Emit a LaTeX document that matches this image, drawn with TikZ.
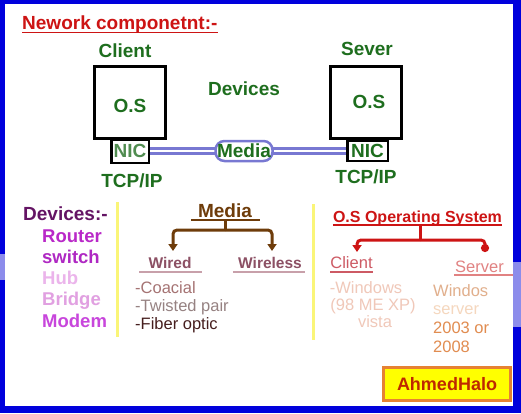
\documentclass[tikz,border=0pt]{standalone}
\usepackage{fontspec}
\setmainfont{Liberation Sans}
\usetikzlibrary{arrows.meta}

\definecolor{frameblue}{RGB}{0,0,220}
\definecolor{framelight}{RGB}{140,140,235}
\definecolor{titlered}{RGB}{205,20,20}
\definecolor{netgreen}{RGB}{30,110,30}
\definecolor{nicgreen}{RGB}{80,140,80}
\definecolor{lavender}{RGB}{120,120,210}
\definecolor{devpurple}{RGB}{100,20,100}
\definecolor{routerc}{RGB}{185,40,200}
\definecolor{switchc}{RGB}{175,40,195}
\definecolor{hubc}{RGB}{235,180,235}
\definecolor{bridgec}{RGB}{225,160,225}
\definecolor{modemc}{RGB}{200,70,220}
\definecolor{sepyellow}{RGB}{250,245,120}
\definecolor{mediabrown}{RGB}{110,60,10}
\definecolor{wiredc}{RGB}{140,80,100}
\definecolor{wiredline}{RGB}{200,160,170}
\definecolor{coacialc}{RGB}{165,115,115}
\definecolor{twistedc}{RGB}{150,130,130}
\definecolor{fiberc}{RGB}{70,30,30}
\definecolor{clientc}{RGB}{205,90,100}
\definecolor{serverc}{RGB}{225,130,130}
\definecolor{winc}{RGB}{240,200,185}
\definecolor{windosc}{RGB}{225,175,140}
\definecolor{wserverc}{RGB}{245,215,190}
\definecolor{yearc}{RGB}{225,140,80}
\definecolor{haloyellow}{RGB}{255,255,0}
\definecolor{haloorange}{RGB}{230,130,50}
\definecolor{halored}{RGB}{190,40,0}

\tikzset{
	bigtxt/.style={font=\fontsize{19}{22}\selectfont\bfseries, inner sep=0pt, anchor=base},
	listtxt/.style={font=\fontsize{18.5}{22}\selectfont\bfseries, inner sep=0pt, anchor=base west},
	headtxt/.style={font=\fontsize{16}{19}\selectfont\bfseries, inner sep=0pt, anchor=base},
	smalltxt/.style={font=\fontsize{16.5}{19}\selectfont, inner sep=0pt, anchor=base},
	pcbox/.style={draw=black, line width=3pt, minimum width=71pt, minimum height=72pt},
	nicbox/.style={draw=black, line width=2.5pt, inner sep=0pt, fill=white,
		font=\fontsize{19}{22}\selectfont\bfseries},
	pill/.style={draw=lavender, line width=2.5pt, rounded corners=9pt, fill=white,
		inner sep=0pt, minimum width=57pt, minimum height=20pt,
		font=\fontsize{19}{22}\selectfont\bfseries},
	link/.style={draw=lavender, line width=3pt, double=white, double distance=2pt},
	sepline/.style={draw=sepyellow, line width=3pt},
	brownline/.style={draw=mediabrown, line width=3pt, rounded corners=4pt},
	redline/.style={draw=titlered, line width=3pt, rounded corners=4pt}
}

\begin{document}
\begin{tikzpicture}[x=1pt,y=-1pt]
	\useasboundingbox (0,0) rectangle (521,413);
	% frame
	\fill[frameblue] (0,0) rectangle (521,413);
	\fill[framelight] (0,254) rectangle (5,280);
	\fill[framelight] (513,262) rectangle (521,327);
	\fill[white] (5,4) rectangle (513,406);

	% title
	\node[bigtxt, anchor=base west, text=titlered] (title) at (22,29) {Nework componetnt:-};
	\draw[titlered, line width=1.5pt] ([yshift=-3.5pt]title.base west) -- ([yshift=-3.5pt]title.base east);

	% client
	\node[bigtxt, text=netgreen] (clientlbl) at (125,57) {Client};
	\node[pcbox] (clientpc) at (130,102.5) {};
	\node[bigtxt, text=netgreen] (clientos) at (130,112) {O.S};
	\node[nicbox, text=nicgreen, minimum width=37.5pt, minimum height=23.5pt] (clientnic) at (130,151) {NIC};
	\node[bigtxt, text=netgreen] (clienttcp) at (132,187) {TCP/IP};

	% server
	\node[bigtxt, text=netgreen] (serverlbl) at (367,55) {Sever};
	\node[pcbox] (serverpc) at (365.5,102) {};
	\node[bigtxt, text=netgreen] (serveros) at (369,108) {O.S};
	\node[nicbox, text=netgreen, minimum width=40.5pt, minimum height=20pt] (servernic) at (367.5,151) {NIC};
	\node[bigtxt, text=netgreen] (servertcp) at (366,183) {TCP/IP};

	% media link
	\node[bigtxt, text=netgreen] (devlbl) at (244,95) {Devices};
	\draw[link] (clientnic) -- (servernic);
	\node[pill, text=netgreen] (medianet) at (244,151) {Media};

	% devices list
	\node[bigtxt, anchor=base west, text=devpurple] (devhead) at (23,220) {Devices:-};
	\foreach \item/\col/\yy in {Router/routerc/242, switch/switchc/263, Hub/hubc/284,
		Bridge/bridgec/305, Modem/modemc/327}
		\node[listtxt, text=\col] (dev\item) at (42,\yy) {\item};
	\draw[sepline] (117,202) -- (117,337);
	\draw[sepline] (313,204) -- (313,340);

	% media tree
	\node[bigtxt, text=mediabrown] (mediahead) at (225,217) {Media};
	\draw[mediabrown, line width=2pt] ([xshift=-7pt,yshift=-3pt]mediahead.base west) -- ([xshift=8pt,yshift=-3pt]mediahead.base east);
	\coordinate (mjoin) at (225,230);
	\coordinate (wiredtip) at (173,251);
	\coordinate (wirelesstip) at (272,251);
	\draw[brownline] ([yshift=-3pt]mediahead.base) -- (mjoin);
	\draw[brownline, -{Triangle[width=9pt,length=7pt]}] (mjoin) -| (wiredtip);
	\draw[brownline, -{Triangle[width=9pt,length=7pt]}] (mjoin) -| (wirelesstip);
	\node[headtxt, font=\fontsize{15.5}{19}\selectfont\bfseries, text=wiredc] (wired) at (170,268) {Wired};
	\node[headtxt, font=\fontsize{15.5}{19}\selectfont\bfseries, text=wiredc] (wireless) at (270,268) {Wireless};
	\draw[wiredline, line width=2pt] ([xshift=-9pt,yshift=-4pt]wired.base west) -- ([xshift=10pt,yshift=-4pt]wired.base east);
	\draw[wiredline, line width=2pt] ([xshift=-5pt,yshift=-4pt]wireless.base west) -- ([xshift=3pt,yshift=-4pt]wireless.base east);
	\node[smalltxt, anchor=base west, text=coacialc] (coacial) at (135,293) {-Coacial};
	\node[smalltxt, anchor=base west, text=twistedc] (twisted) at (135,311) {-Twisted pair};
	\node[smalltxt, anchor=base west, text=fiberc] (fiber) at (135,329) {-Fiber optic};

	% os tree
	\node[headtxt, text=titlered] (oshead) at (417.5,222) {O.S Operating System};
	\draw[titlered, line width=1.5pt] ([yshift=-3pt]oshead.base west) -- ([yshift=-3pt]oshead.base east);
	\coordinate (osjoin) at (420,240);
	\coordinate (osclienttip) at (357,252);
	\coordinate (osservertip) at (485,252);
	\draw[redline] ([yshift=-3pt]oshead.base -| osjoin) -- (osjoin);
	\draw[redline, -{Triangle[width=9pt,length=7pt]}] (osjoin) -| (osclienttip);
	\draw[redline, -{Circle[length=8pt]}] (osjoin) -| (osservertip);
	\node[smalltxt, text=clientc] (osclient) at (351.5,268) {Client};
	\draw[clientc, line width=1.5pt] ([yshift=-4pt]osclient.base west) -- ([yshift=-4pt]osclient.base east);
	\node[smalltxt, text=serverc] (osserver) at (479.5,272) {Server};
	\draw[serverc, line width=1.5pt] ([xshift=-1pt,yshift=-3pt]osserver.base west) -- ([xshift=9pt,yshift=-3pt]osserver.base east);
	\node[smalltxt, text=winc] (win1) at (366,293) {-Windows};
	\node[smalltxt, text=winc] (win2) at (373,310) {(98 ME XP)};
	\node[smalltxt, text=winc] (win3) at (375,327) {vista};
	\node[smalltxt, anchor=base west, text=windosc] (srv1) at (433,296) {Windos};
	\node[smalltxt, anchor=base west, text=wserverc] (srv2) at (433,314) {server};
	\node[smalltxt, anchor=base west, text=yearc] (srv3) at (433,333) {2003 or};
	\node[smalltxt, anchor=base west, text=yearc] (srv4) at (433,352) {2008};

	% signature
	\node[draw=haloorange, fill=haloyellow, line width=3pt, minimum width=127pt, minimum height=33pt,
		font=\fontsize{18}{21}\selectfont\bfseries, text=halored] (halo) at (447,384) {AhmedHalo};
\end{tikzpicture}
\end{document}
